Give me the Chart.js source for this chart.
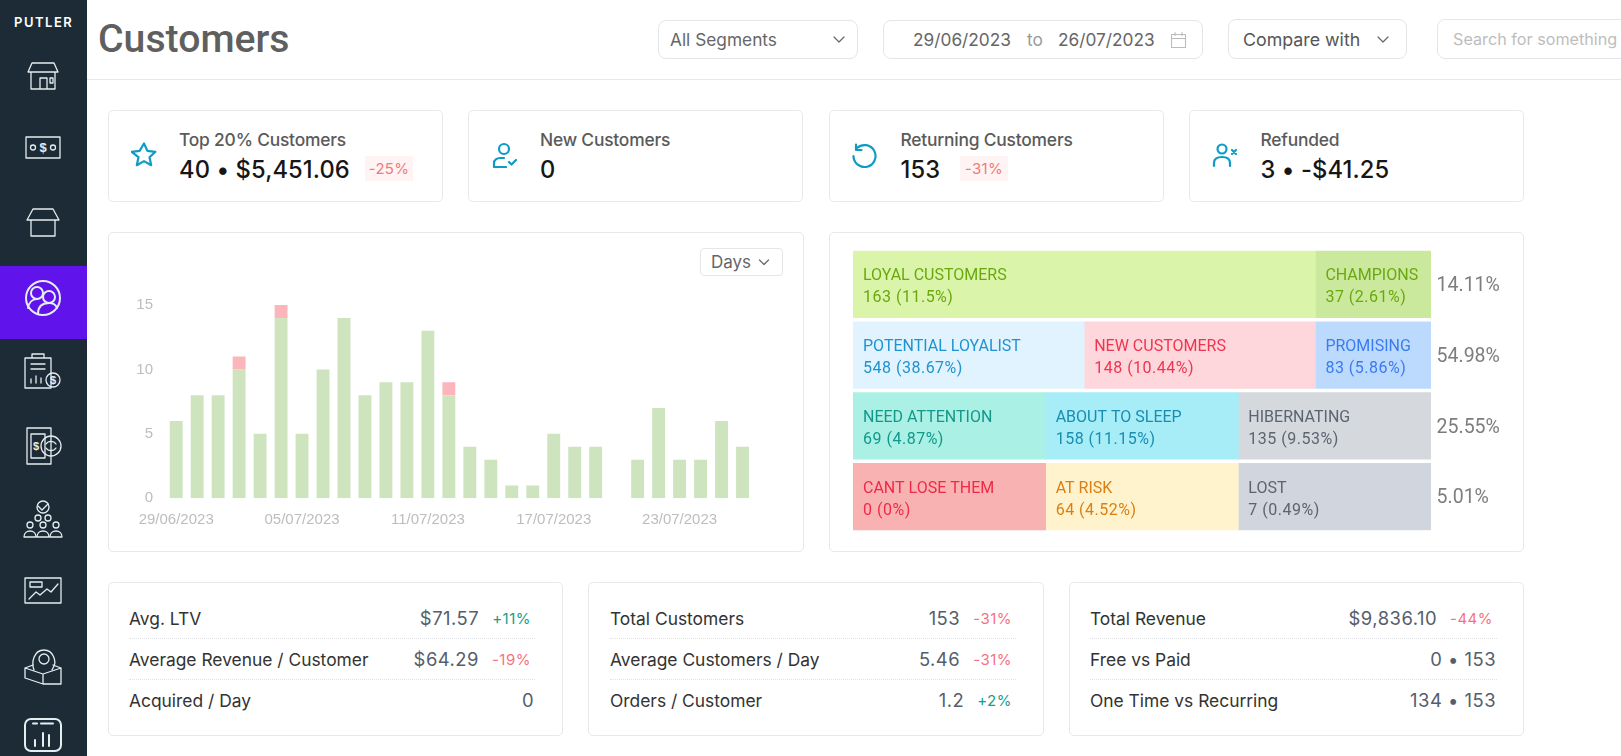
<!DOCTYPE html>
<html><head><meta charset="utf-8">
<script src="https://cdn.jsdelivr.net/npm/chart.js@4/dist/chart.umd.min.js"></script>
<style>
html,body{margin:0;padding:0;width:1621px;height:756px;overflow:hidden;background:#fff;font-family:Inter,sans-serif;}
.a{position:absolute;box-sizing:border-box;white-space:nowrap;}
.card{position:absolute;box-sizing:border-box;border:1px solid #e6e8ea;border-radius:5px;background:#fff;}
.ctl{position:absolute;box-sizing:border-box;border:1px solid #e4e6ea;border-radius:8px;background:#fff;}
.t{position:absolute;white-space:nowrap;line-height:1;transform:translateY(-50%);}
svg.ic{position:absolute;fill:none;stroke-linecap:round;stroke-linejoin:round;}
svg.ic text{fill:#e4edf0;stroke:none;font:600 10px "Liberation Sans";}
</style></head><body>
<div class="a" style="left:0;top:0;width:87px;height:756px;background:#1d2b36"></div>
<div class="a" style="left:0;top:266px;width:87px;height:73px;background:#6013ea"></div>
<div class="t" style="left:14px;top:22px;color:#fff;font:600 13px Inter;letter-spacing:1.5px">PUTLER</div>
<div id="side"></div>
<div class="a" style="left:87px;top:79px;width:1534px;height:1px;background:#e6e8ea"></div>
<div class="t" style="left:98px;top:39px;color:#5f5f5f;font:500 39.2px Roboto">Customers</div>

<div class="ctl" style="left:658px;top:20px;width:200px;height:39px"></div>
<div class="t" style="left:670px;top:39px;color:#666;font:400 17.3px Inter">All Segments</div>
<div class="ctl" style="left:883px;top:20px;width:320px;height:39px"></div>
<div class="t" style="left:913px;top:38.5px;color:#666;font:400 17.3px Inter">29/06/2023</div>
<div class="t" style="left:1027px;top:38.5px;color:#999;font:400 17.3px Inter">to</div>
<div class="t" style="left:1058px;top:38.5px;color:#666;font:400 17.3px Inter">26/07/2023</div>
<div class="ctl" style="left:1228px;top:19px;width:179px;height:40px"></div>
<div class="t" style="left:1243px;top:39px;color:#555;font:400 17.8px Inter">Compare with</div>
<div class="ctl" style="left:1437px;top:19px;width:200px;height:40px"></div>
<div class="t" style="left:1453px;top:39px;color:#bdbdbd;font:400 16.2px Inter">Search for something</div>
<svg class="ic" style="left:833px;top:35px" width="12" height="9" stroke="#666" stroke-width="1.2"><path d="M1 2l5 5 5-5"/></svg>
<svg class="ic" style="left:1377px;top:35px" width="12" height="9" stroke="#666" stroke-width="1.2"><path d="M1 2l5 5 5-5"/></svg>
<svg class="ic" style="left:1170px;top:31px" width="17" height="18" stroke="#bbb" stroke-width="1.1"><path d="M1.5 3.5h14v13h-14zM1.5 7.5h14M5 1.5v3M12 1.5v3"/></svg>

<div id="tops"></div>
<div class="card" style="left:108px;top:232px;width:696px;height:320px"></div>
<div class="card" style="left:829px;top:232px;width:695px;height:320px"></div>
<div class="ctl" style="left:700px;top:248px;width:83px;height:28px;border-radius:4px"></div>
<div class="t" style="left:711px;top:262px;color:#666;font:400 17px Inter">Days</div>
<svg class="ic" style="left:758px;top:258px" width="12" height="9" stroke="#666" stroke-width="1.2"><path d="M1.5 2l4.5 4.5L10.500 2"/></svg>
<canvas id="bars" class="a" style="left:110px;top:285px;width:690px;height:262px" width="690" height="262"></canvas>
<canvas id="grid" class="a" style="left:840px;top:240px;width:680px;height:300px" width="680" height="300"></canvas>
<div id="bottoms"></div>

<script>
// ---- daily customer bars ----
const dayLabels = ["29/06/2023","30/06/2023","01/07/2023","02/07/2023","03/07/2023","04/07/2023","05/07/2023","06/07/2023","07/07/2023","08/07/2023","09/07/2023","10/07/2023","11/07/2023","12/07/2023","13/07/2023","14/07/2023","15/07/2023","16/07/2023","17/07/2023","18/07/2023","19/07/2023","20/07/2023","21/07/2023","22/07/2023","23/07/2023","24/07/2023","25/07/2023","26/07/2023"];
const paidCustomers = [6,8,8,10,5,14,5,10,14,8,9,9,13,8,4,3,1,1,5,4,4,0,3,7,3,3,6,4];
const refundedCustomers = [0,0,0,1,0,1,0,0,0,0,0,0,0,1,0,0,0,0,0,0,0,0,0,0,0,0,0,0];
const yTicks = [0,5,10,15];

// ---- segment grid: rows, column spans (of 15), names, counts ----
const rowShares = ["14.11%","54.98%","25.55%","5.01%"];
const spanA = [12,6,5,5];
const spanB = [3,6,5,5];
const spanC = [0,3,5,5];
const namesA = ["LOYAL CUSTOMERS","POTENTIAL LOYALIST","NEED ATTENTION","CANT LOSE THEM"];
const namesB = ["CHAMPIONS","NEW CUSTOMERS","ABOUT TO SLEEP","AT RISK"];
const namesC = ["","PROMISING","HIBERNATING","LOST"];
const valuesA = ["163 (11.5%)","548 (38.67%)","69 (4.87%)","0 (0%)"];
const valuesB = ["37 (2.61%)","148 (10.44%)","158 (11.15%)","64 (4.52%)"];
const valuesC = ["","83 (5.86%)","135 (9.53%)","7 (0.49%)"];
const fillA = ["#daf5aa","#e0f3fe","#abf0e4","#f9b2b2"];
const fillB = ["#cbe99d","#fed7dc","#a6edf8","#fef3cd"];
const fillC = ["#cbe99d","#bcdafe","#d5d8dd","#d0d5de"];
const inkA = ["#6aa80e","#1f93cf","#12988a","#ee2a48"];
const inkB = ["#6aa80e","#f0344f","#1a8db0","#dd7e10"];
const inkC = ["#6aa80e","#3b7bf0","#5c6470","#5c6470"];

// ---- stat cards ----
const topCards = [
 {l:108,w:335,tx:179,ix:143.5,title:"Top 20% Customers",value:"40 • $5,451.06",badge:"-25%",bx:365,icon:"star"},
 {l:468,w:335,tx:540,ix:503.5,title:"New Customers",value:"0",icon:"userok"},
 {l:829,w:335,tx:900.5,ix:864,title:"Returning Customers",value:"153",badge:"-31%",bx:960,icon:"back"},
 {l:1189,w:335,tx:1260.5,ix:1224,title:"Refunded",value:"3 • -$41.25",icon:"userx"}];
const bottomCards = [
 {l:108,w:455,tx:129,r:534,rows:[["Avg. LTV","$71.57","+11%"],["Average Revenue / Customer","$64.29","-19%"],["Acquired / Day","0",""]]},
 {l:588,w:456,tx:610,r:1015,rows:[["Total Customers","153","-31%"],["Average Customers / Day","5.46","-31%"],["Orders / Customer","1.2","+2%"]]},
 {l:1069,w:455,tx:1090,r:1496,rows:[["Total Revenue","$9,836.10","-44%"],["Free vs Paid","0 • 153",""],["One Time vs Recurring","134 • 153",""]]}];

const icons = {
 star:'<path d="M13 1.500l3.400 7.400 8 .9-5.900 5.400 1.700 8-7.200-4.100-7.200 4.100 1.700-8L.6 9.800l8-.9z"/>',
 userok:'<circle cx="13" cy="7" r="5"/><path d="M3 25h12M3 25v-4c0-3 3-5 6-5h4M18 20l2.500 2.500L25 18"/>',
 back:'<path d="M6 6A11 11 0 1 1 2.500 14M5 2.500v5.500h5.500"/>',
 userx:'<circle cx="11" cy="7" r="4.500"/><path d="M3 24v-3c0-4 3-6 8-6s8 2 8 6v3M21 8l4 4M25 8l-4 4"/>'};
const h = [];
topCards.forEach(c=>{
 h.push(`<div class="card" style="left:${c.l}px;top:110px;width:${c.w}px;height:92px"></div>`);
 h.push(`<svg class="ic" style="left:${c.ix-13}px;top:142px" width="26" height="26" stroke="#0f9cc4" stroke-width="2.200">${icons[c.icon]}</svg>`);
 h.push(`<div class="t" style="left:${c.tx}px;top:138.500px;color:#5a5a5a;font:500 17.4px Inter;letter-spacing:-.2px">${c.title}</div>`);
 h.push(`<div class="t" style="left:${c.tx}px;top:169px;color:#161616;font:500 23.7px Inter;letter-spacing:.1px">${c.value}</div>`);
 if(c.badge){h.push(`<div class="a" style="left:${c.bx}px;top:156px;width:48px;height:25px;background:#fff3f3;color:#ef7b7b;font:400 15px/25px Inter;letter-spacing:.3px;text-align:center">${c.badge}</div>`);}
});
document.getElementById('tops').innerHTML = h.join('');

const b = [];
const rowY = [617.500,658.500,699.500];
bottomCards.forEach(c=>{
 b.push(`<div class="card" style="left:${c.l}px;top:582px;width:${c.w}px;height:154px"></div>`);
 [638,679].forEach(y=>b.push(`<div class="a" style="left:${c.tx}px;top:${y}px;width:${c.r-c.tx+1}px;border-top:1px dotted #dfe1e4"></div>`));
 c.rows.forEach((r,i)=>{
  b.push(`<div class="t" style="left:${c.tx}px;top:${rowY[i]}px;color:#333;font:400 17.4px Inter">${r[0]}</div>`);
  const pct = r[2] ? `<span style="margin-left:13px;position:relative;top:-1px;color:${r[2][0]==='+'?'#13a08c':'#f4727f'};font:400 15px Inter;letter-spacing:.5px">${r[2]}</span>` : '';
  b.push(`<div class="t" style="right:${1621-(r[2]?c.r-3:c.r)}px;top:${rowY[i]}px;color:#555e6c;font:400 18.4px Inter;letter-spacing:.5px">${r[1]}${pct}</div>`);
 });
});
document.getElementById('bottoms').innerHTML = b.join('');

const sideIcons = [
 [77,'<path d="M7 15h30l-4-9H11zM10 15v17h24V15M19 32V21h7v11M29 21h3v5h-3z"/>'],
 [150.500,'<path d="M5 6h34v21H5z"/><circle cx="12" cy="16.500" r="2.500"/><circle cx="32" cy="16.500" r="2.500"/><text x="18.500" y="21" style="font-size:13px">$</text>'],
 [225.500,'<path d="M6 14L12 3h20l6 11zM10 14v16h24V14"/>'],
 [298.500,'<circle cx="22" cy="19" r="17"/><circle cx="16" cy="14" r="6"/><circle cx="28" cy="18" r="6"/><path d="M7 29c1-6 5-9 9-9M17 35c0-7 4-11 11-11 4 0 7 2 8 5"/>'],
 [371.500,'<path d="M4 6h26v30H4zM11 6V2h12v4M10 12h14M10 17h14M10 31v-4M15 31v-7M20 31v-5"/><circle cx="32" cy="28" r="7"/><text x="29" y="32" style="font-size:11px">$</text>'],
 [445.500,'<path d="M6 2h24v36H6zM10 8h14v24H10z"/><circle cx="30" cy="20" r="10"/><path d="M25 18a6 6 0 0 1 10 0M35 22a6 6 0 0 1-10 0"/><text x="12" y="24" style="font-size:11px">$</text>'],
 [519.500,'<path d="M17 6l4 4 6-6"/><circle cx="22" cy="7" r="6"/><circle cx="17" cy="18" r="3"/><circle cx="27" cy="18" r="3"/><circle cx="9" cy="25" r="3"/><circle cx="22" cy="25" r="3"/><circle cx="35" cy="25" r="3"/><path d="M3 37c0-8 12-8 12 0zM16 37c0-8 12-8 12 0zM29 37c0-8 12-8 12 0z"/>'],
 [592.500,'<path d="M4 5h36v25H4zM8 26l7-7 4 3 7-6 4 3 7-8M9 9h12v5H9z"/>'],
 [666,'<path d="M4 22l18 6v10l-18-6zM22 28l18-6v16H22zM4 22l8-3M40 22l-8-3"/><path d="M13 24c-3-8 0-20 10-20s12 12 10 16l-2 4"/><circle cx="23" cy="13" r="5"/>'],
 [736,'<rect x="4" y="3" width="36" height="32" rx="6"/><path d="M12 7.500h4M20 7.500h12M14 30v-6M22 30V17M28 30V19"/>']];
document.getElementById('side').innerHTML = sideIcons.map((s,i)=>`<svg class="ic" style="left:21px;top:${s[0]-20}px" width="44" height="40" stroke="#e4edf0" stroke-width="${i===3||i===9?2:1.300}">${s[1]}</svg>`).join('');

// drop the half-label insets so the plot area is exactly what the padding says
const noInset = s => { s.paddingTop = s.paddingBottom = s.paddingLeft = s.paddingRight = 0; };

new Chart(document.getElementById('bars'),{
 type:'bar',
 data:{labels:dayLabels,datasets:[
  {data:paidCustomers,backgroundColor:'#cde4bf',stack:'s',barPercentage:.615,categoryPercentage:1},
  {data:refundedCustomers,backgroundColor:'#fbb5bb',stack:'s',barPercentage:.615,categoryPercentage:1}]},
 options:{responsive:false,animation:false,devicePixelRatio:1,
  layout:{padding:{left:0,right:47,top:20,bottom:0}},
  plugins:{legend:{display:false},tooltip:{enabled:false}},
  scales:{
   x:{stacked:true,grid:{display:false,drawTicks:false},border:{display:false},
      afterFit:s=>{s.height=48.7;noInset(s)},
      ticks:{autoSkip:false,maxRotation:0,minRotation:0,padding:13,color:'#bdbdbd',font:{family:'"Liberation Sans"',size:15},
             callback(v,i){return i%6===0?this.getLabelForValue(v):''}}},
   y:{stacked:true,min:0,max:15,grid:{display:false,drawTicks:false},border:{display:false},
      afterFit:s=>{s.width=55.7;noInset(s)},afterBuildTicks:s=>{s.ticks=yTicks.map(v=>({value:v}))},
      ticks:{padding:12.700,color:'#bdbdbd',font:{family:'"Liberation Sans"',size:15}}}
  }}});

const cellLabels = {
 id:'cellLabels',
 afterDatasetsDraw(chart){
  const ctx = chart.ctx;
  const sets = [[namesA,valuesA,inkA],[namesB,valuesB,inkB],[namesC,valuesC,inkC]];
  ctx.save();ctx.textBaseline='middle';ctx.textAlign='left';ctx.font='400 16px Roboto';
  sets.forEach((s,d)=>{
   chart.getDatasetMeta(d).data.forEach((bar,i)=>{
    if(!s[0][i])return;
    ctx.fillStyle=s[2][i];
    const x=Math.min(bar.x,bar.base)+10;
    ctx.letterSpacing='0px';
    ctx.fillText(s[0][i],x,bar.y-8);
    ctx.letterSpacing='0.5px';
    ctx.fillText(s[1][i],x,bar.y+14);
   });
  });
  ctx.restore();
 }};
new Chart(document.getElementById('grid'),{
 type:'bar',
 plugins:[cellLabels],
 data:{labels:rowShares,datasets:[
  {data:spanA,backgroundColor:fillA,barThickness:66.500},
  {data:spanB,backgroundColor:fillB,barThickness:66.500},
  {data:spanC,backgroundColor:fillC,barThickness:66.500}]},
 options:{indexAxis:'y',responsive:false,animation:false,devicePixelRatio:1,
  layout:{padding:{left:13,right:0,top:9.100,bottom:8.100}},
  plugins:{legend:{display:false},tooltip:{enabled:false}},
  scales:{
   x:{stacked:true,display:false,min:0,max:15},
   y:{stacked:true,position:'right',grid:{display:false,drawTicks:false},border:{display:false},
      afterFit:s=>{s.width=89;noInset(s)},
      ticks:{padding:5.600,labelOffset:2,color:'#7d7d7d',font:{family:'Roboto',size:19.5}}}
  }}});
</script>
</body></html>
